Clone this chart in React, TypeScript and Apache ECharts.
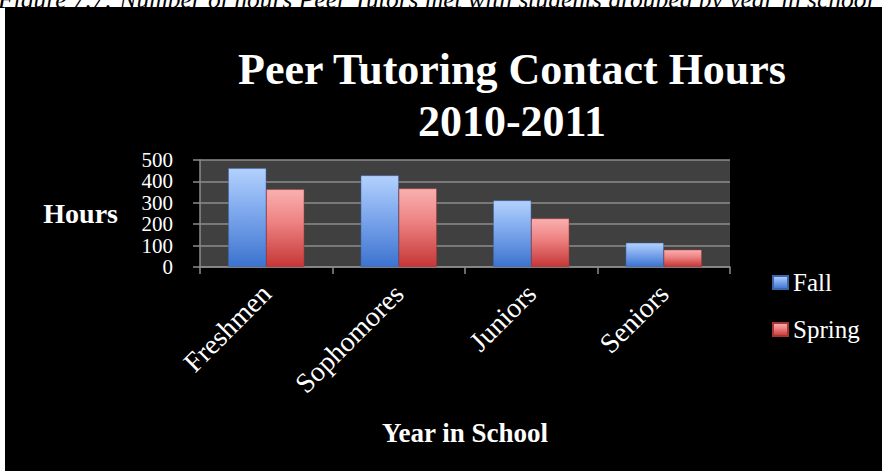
import React, { useEffect, useRef } from "react";
import * as echarts from "echarts";

const categories = ["Freshmen", "Sophomores", "Juniors", "Seniors"];
const fallHours = [461, 428, 311, 113];
const springHours = [363, 367, 227, 81];
const seriesNames = ["Fall", "Spring"];
const yMin = 0;
const yMax = 500;
const yStep = 100;
const titleLines = ["Peer Tutoring Contact Hours", "2010-2011"];
const captionText = "Figure 7.7: Number of hours Peer Tutors met with students grouped by year in school";
const xAxisTitle = "Year in School";
const yAxisTitle = "Hours";

const FONT = '"Liberation Serif", "DejaVu Serif", serif';

export default function App() {
  const ref = useRef<HTMLDivElement>(null);
  useEffect(() => {
    if (!ref.current) return;
    const chart = echarts.init(ref.current, null, { renderer: "svg" });
    const fallGrad = new echarts.graphic.LinearGradient(0, 0, 0, 1, [
      { offset: 0, color: "#b3d1fc" },
      { offset: 0.4, color: "#83acef" },
      { offset: 1, color: "#3c73cf" },
    ]);
    const springGrad = new echarts.graphic.LinearGradient(0, 0, 0, 1, [
      { offset: 0, color: "#f9b0b0" },
      { offset: 0.4, color: "#ef8585" },
      { offset: 1, color: "#c53636" },
    ]);
    const axisGray = "#8c8c8c";
    chart.setOption({
      animation: false,
      backgroundColor: "#ffffff",
      graphic: [
        {
          type: "text",
          z: -30,
          x: -2,
          y: 12,
          style: {
            text: captionText,
            fill: "#000",
            font: 'italic 25.5px "Liberation Serif", serif',
            align: "left",
            verticalAlign: "bottom",
          },
        },
        {
          type: "rect",
          z: -20,
          shape: { x: 5, y: 7, width: 877, height: 464 },
          style: { fill: "#000000" },
        },
        {
          type: "text",
          x: 512,
          y: 95,
          style: {
            text: titleLines.join("\n"),
            fill: "#ffffff",
            font: 'bold 44px "Liberation Serif", serif',
            lineHeight: 52,
            align: "center",
            verticalAlign: "middle",
          },
        },
      ],
      legend: {
        orient: "vertical",
        left: 767,
        top: 265,
        itemWidth: 15,
        itemHeight: 13,
        itemGap: 22,
        icon: "rect",
        textStyle: { color: "#ffffff", fontSize: 25, fontFamily: FONT },
        data: seriesNames,
      },
      grid: {
        left: 200,
        top: 160,
        width: 530,
        height: 107,
        show: true,
        backgroundColor: "#404040",
        borderWidth: 0,
      },
      xAxis: {
        type: "category",
        data: categories,
        name: xAxisTitle,
        nameLocation: "middle",
        nameGap: 152,
        nameTextStyle: { color: "#ffffff", fontWeight: "bold", fontSize: 27, fontFamily: FONT },
        axisLine: { show: true, lineStyle: { color: axisGray, width: 1.5 } },
        axisTick: { show: true, length: 7, lineStyle: { color: axisGray, width: 1.5 } },
        axisLabel: { rotate: 45, interval: 0, color: "#ffffff", fontSize: 28, fontFamily: FONT, margin: 22 },
      },
      yAxis: {
        type: "value",
        min: yMin,
        max: yMax,
        interval: yStep,
        name: yAxisTitle,
        nameLocation: "middle",
        nameRotate: 0,
        nameGap: 82,
        nameTextStyle: { color: "#ffffff", fontWeight: "bold", fontSize: 28, fontFamily: FONT },
        axisLine: { show: true, lineStyle: { color: axisGray, width: 1.5 } },
        axisTick: { show: true, length: 7, lineStyle: { color: axisGray, width: 1.5 } },
        splitLine: { show: true, lineStyle: { color: axisGray, width: 1.5 } },
        axisLabel: {
          color: "#ffffff",
          fontSize: 21,
          lineHeight: 20,
          fontFamily: FONT,
          margin: 27,
          showMinLabel: true,
          showMaxLabel: true,
          hideOverlap: false,
        },
      },
      series: [
        {
          name: seriesNames[0],
          type: "bar",
          data: fallHours,
          barWidth: 38,
          barGap: "0%",
          itemStyle: { color: fallGrad, borderColor: "#3a66ad", borderWidth: 0.5 },
        },
        {
          name: seriesNames[1],
          type: "bar",
          data: springHours,
          barWidth: 38,
          barGap: "0%",
          itemStyle: { color: springGrad, borderColor: "#a83434", borderWidth: 0.5 },
        },
      ],
    });
    return () => chart.dispose();
  }, []);
  return (
    <div
      ref={ref}
      style={{ position: "fixed", left: 0, top: 0, width: 882, height: 471 }}
    />
  );
}
